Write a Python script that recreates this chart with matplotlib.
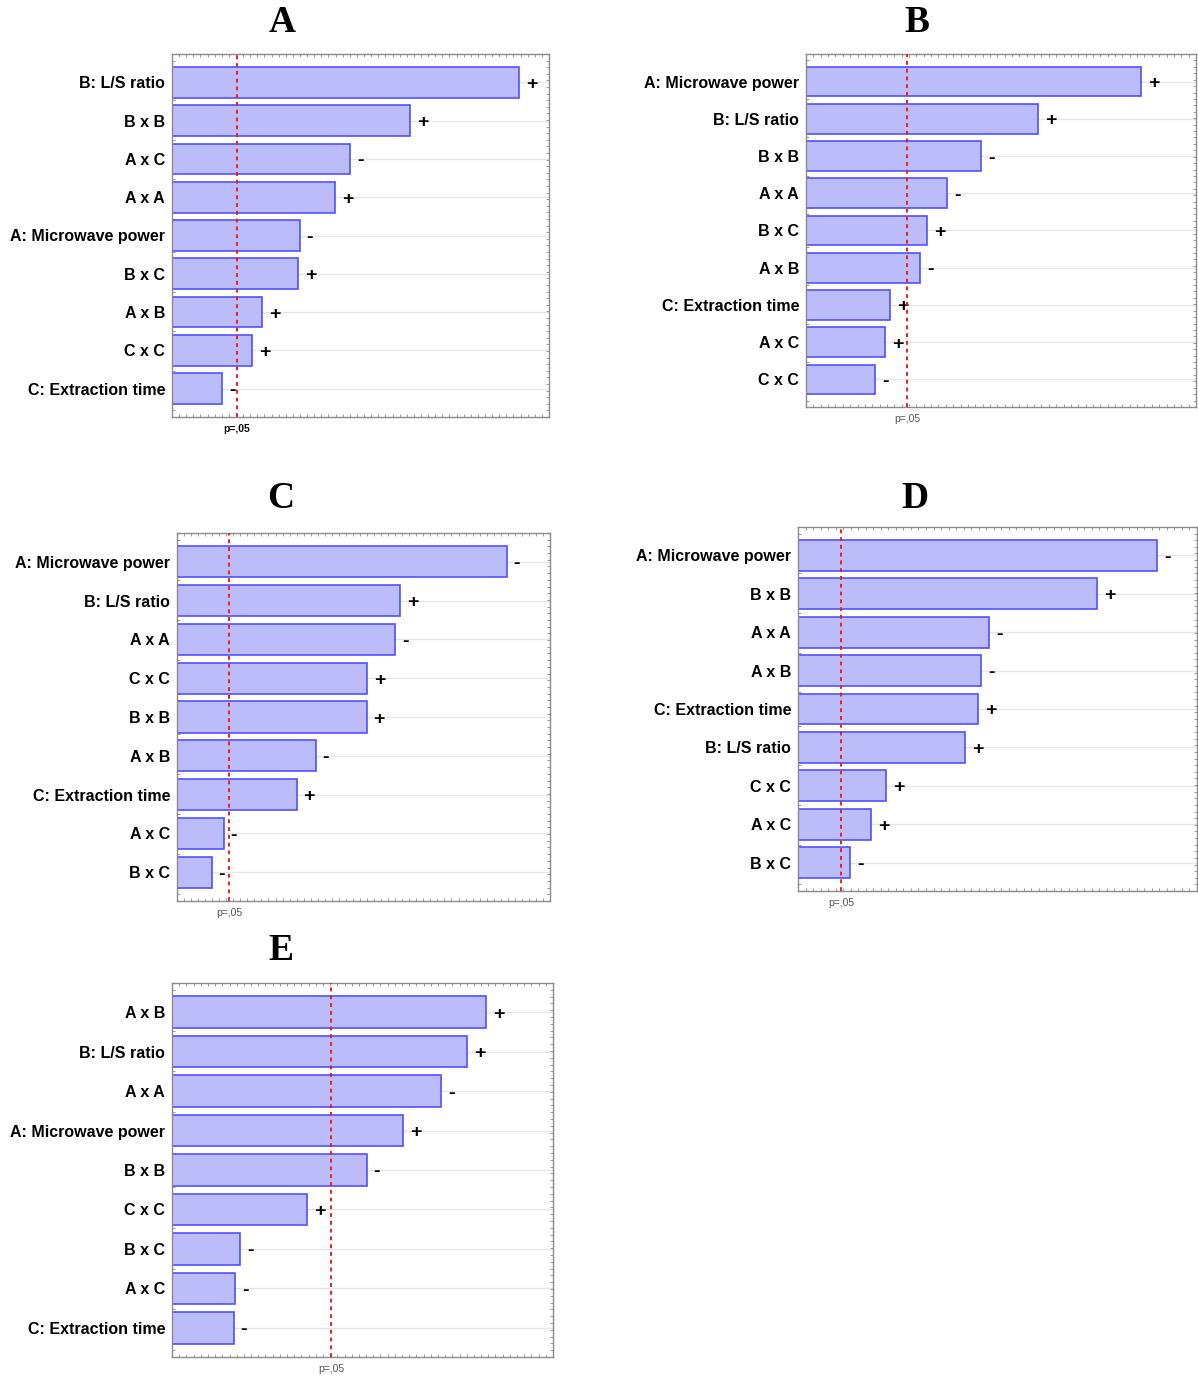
import numpy as np
import matplotlib.pyplot as plt

W, H = 1198, 1381
T_CRIT = 2.571  # p = .05 critical value

terms_a = ["B: L/S ratio", "B x B", "A x C", "A x A", "A: Microwave power",
           "B x C", "A x B", "C x C", "C: Extraction time"]
effects_a = [13.73, 9.41, 7.04, 6.45, 5.06, 4.98, 3.56, 3.16, 1.98]
signs_a = ["+", "+", "-", "+", "-", "+", "+", "+", "-"]

terms_b = ["A: Microwave power", "B: L/S ratio", "B x B", "A x A", "B x C",
           "A x B", "C: Extraction time", "A x C", "C x C"]
effects_b = [8.53, 5.90, 4.45, 3.59, 3.08, 2.90, 2.14, 2.01, 1.76]
signs_b = ["+", "+", "-", "-", "+", "-", "+", "+", "-"]

terms_c = ["A: Microwave power", "B: L/S ratio", "A x A", "C x C", "B x B",
           "A x B", "C: Extraction time", "A x C", "B x C"]
effects_c = [16.36, 11.07, 10.83, 9.44, 9.40, 6.87, 5.93, 2.32, 1.73]
signs_c = ["-", "+", "-", "+", "+", "-", "+", "-", "-"]

terms_d = ["A: Microwave power", "B x B", "A x A", "A x B", "C: Extraction time",
           "B: L/S ratio", "C x C", "A x C", "B x C"]
effects_d = [21.46, 17.87, 11.42, 10.94, 10.76, 9.98, 5.26, 4.36, 3.11]
signs_d = ["-", "+", "-", "-", "+", "+", "+", "+", "-"]

terms_e = ["A x B", "B: L/S ratio", "A x A", "A: Microwave power", "B x B",
           "C x C", "B x C", "A x C", "C: Extraction time"]
effects_e = [5.08, 4.77, 4.35, 3.74, 3.15, 2.18, 1.10, 1.02, 1.00]
signs_e = ["+", "+", "-", "+", "-", "+", "-", "-", "-"]

panels = [
    # letter, terms, effects, signs, axes box in pixels (l, t, r, b), x max, title pos
    ("A", terms_a, effects_a, signs_a, (172, 54, 549, 417), 14.91, (282, 23)),
    ("B", terms_b, effects_b, signs_b, (806, 54, 1196, 407), 9.93, (917, 23)),
    ("C", terms_c, effects_c, signs_c, (177, 533, 550, 901), 18.49, (281, 498)),
    ("D", terms_d, effects_d, signs_d, (798, 527, 1197, 891), 23.85, (915, 498)),
    ("E", terms_e, effects_e, signs_e, (172, 983, 553, 1357), 6.16, (281, 951)),
]

plt.rcParams['font.family'] = ['Liberation Sans', 'DejaVu Sans']

fig = plt.figure(figsize=(W / 100, H / 100), dpi=100)

for letter, terms, effects, signs, box, xmax, tpos in panels:
    l, t, r, b = box
    ax = fig.add_axes([l / W, 1 - b / H, (r - l) / W, (b - t) / H])
    n = len(terms)
    y = np.arange(n)

    for yi in y:
        ax.axhline(yi, color='#e6e6e6', lw=1, zorder=0)

    ax.barh(y, effects, height=0.8, color='#bcbcfb', edgecolor='#5050ff',
            linewidth=1.2, zorder=2)
    for yi, v, s in zip(y, effects, signs):
        ax.text(v + xmax * 0.018, yi, s, ha='left', va='center_baseline',
                fontsize=14, fontweight='bold', color='black', zorder=3)

    ax.axvline(T_CRIT, color='#e8201c', ls=(0, (2, 2)), lw=1.4, zorder=4)
    ax.annotate("p=,05", xy=(T_CRIT, 0), xycoords=('data', 'axes fraction'),
                xytext=(0, -5), textcoords='offset points', ha='center', va='top',
                fontsize=7.5, color='#555555' if letter != 'A' else 'black',
                fontweight='bold' if letter == 'A' else 'normal')

    ax.set_xlim(0, xmax)
    ax.set_ylim(n - 1 + 0.74, -0.74)
    ax.set_yticks(y)
    ax.set_yticklabels(terms, fontsize=11.5, fontweight='bold')
    ax.set_xticks([])
    ax.set_xticks(np.linspace(0, xmax, 54), minor=True)
    ax.tick_params(axis='y', length=0, pad=5)
    ax.tick_params(axis='x', which='minor', direction='in', length=2.5,
                   color='#888888', top=True, bottom=True, labelbottom=False)
    ax.set_yticks(np.linspace(n - 1 + 0.74, -0.74, 56), minor=True)
    ax.tick_params(axis='y', which='minor', direction='in', length=2.5,
                   color='#888888', left=True, right=True)
    for sp in ax.spines.values():
        sp.set_color('#8a8a8a')
        sp.set_linewidth(1.0)

    fig.text(tpos[0] / W, 1 - tpos[1] / H, letter, ha='center', va='center',
             fontsize=27, fontweight='bold', family='Liberation Serif')

fig.savefig("out.png", dpi=100, facecolor='white')
